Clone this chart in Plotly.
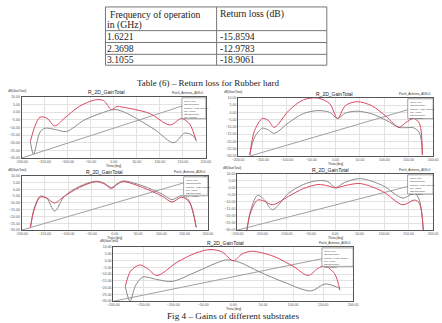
import plotly.graph_objects as go

W, H = 442, 323

# ---------------- data ----------------
table_col_titles = ["Frequency of operation", "in (GHz)", "Return loss (dB)"]
freq_ghz = ["1.6221", "2.3698", "3.1055"]
return_loss_db = ["-15.8594", "-12.9783", "-18.9061"]
table_caption = "Table (6) – Return loss for Rubber hard"
fig_caption = "Fig 4 – Gains of different substrates"

plot_title = "R_2D_GainTotal"
y_label = "dB(GainTotal)"
x_label = "Theta [deg]"
design_label = "Patch_Antenna_ADKv1"
legend_lines = ["Curve Info", "dB(GainTotal)", "Setup1 : LastAdaptive", "Phi='0deg'", "dB(GainTotal)", "Phi='90deg'"]

x_ticks = [-200, -150, -100, -50, 0, 50, 100, 150, 200]
y_ticks = [-30, -25, -20, -15, -10, -5, 0, 5, 10]

# plot 1 (top-left)
p1_theta_red = [-181, -170, -160, -145, -128, -107, -75, -39, -22, -5, 7, 20, 77, 122, 147, 165, 179]
p1_gain_red = [-19.2, -8.4, -3.3, -4.0, -9.0, -4.0, 3.7, 8.1, 7.5, 1.7, 3.7, 3.2, -0.8, -8.4, -4.2, -8.0, -19.0]
p1_theta_grey = [-181, -174, -160, -149, -125, -103, -64, -30, 2.5, 30, 55, 90, 130, 154, 170, 179]
p1_gain_grey = [-19.2, -27.5, -13.0, -10.5, -11.5, -12.7, -5.2, -1.0, 1.7, -1.0, -5.2, -11.6, -20.0, -13.7, -15.0, -18.0]
p1_theta_diag = [-200, 200]
p1_gain_diag = [-30, 9]

# plot 2 (top-right)
p2_theta = [-176, -166, -150, -138, -126, -96, -66, -36, -12, 4, 20, 44, 74, 104, 130, 144, 160, 172, 178]
p2_gain_red = [-29.3, -12.4, -4.2, -5.6, -10.3, 1.2, 8.6, 9.8, 5.9, -4.2, 4.6, 7.3, 4.6, -2.9, -10.3, -7.0, -4.2, -7.6, -29.3]
p2_gain_grey = [-29.3, -17.0, -10.9, -12.0, -14.4, -7.0, -0.8, 1.2, 0.0, -4.2, -0.5, 0.8, -1.0, -5.5, -10.3, -10.5, -10.6, -14.0, -29.3]
p2_theta_diag = [-176, 190]
p2_gain_diag = [-30, 5.9]

# plot 3 (middle-left)
p3_theta = [-181, -173, -160, -146, -129, -108, -76, -41, -24, -7, 5, 18, 60, 102, 123, 144, 160, 175]
p3_gain_red = [-27.9, -15.0, -5.7, -6.4, -10.0, -5.0, 1.4, 5.7, 4.3, 0.7, 3.6, 5.7, 1.4, -5.0, -9.3, -5.7, -9.3, -27.9]
p3_gain_grey = [-27.9, -14.0, -5.0, -6.5, -16.0, -5.0, 2.2, 6.0, 4.8, 1.4, 4.2, 6.2, 2.6, -3.5, -7.5, -4.6, -8.5, -27.9]
p3_theta_diag = [-200, 200]
p3_gain_diag = [-30, 10]

# plot 4 (middle-right)
p4_theta = [-180, -172, -158, -144, -128, -95, -65, -35, -15, 1, 19, 51, 97, 138, 162, 172, 180]
p4_gain_grey = [-30, -15.5, -5.2, -8.6, -15.5, -3.8, 2.4, 5.2, 4.5, 0.3, 3.8, 6.6, 1.7, -7.2, -3.8, -8.6, -30]
p4_gain_red = [-30, -17.0, -8.6, -9.5, -12.0, -6.0, -0.5, 2.4, 1.5, 0.0, 1.5, 3.1, -2.5, -12.0, -8.6, -11.0, -30]
p4_theta_diag = [-200, 195]
p4_gain_diag = [-30, 5.2]

# plot 5 (bottom)
p5_theta_red = [-180, -171, -156, -143, -127, -94, -62, -37, -18, 0, 15, 31, 68, 101, 125, 141, 153, 169, 178]
p5_gain_red = [-19.2, -7.8, -3.3, -5.9, -11.0, -1.4, 5.6, 8.1, 6.2, -0.2, 4.9, 6.8, 3.0, -4.6, -11.0, -5.9, -4.0, -9.7, -22.0]
p5_theta_grey = [-180, -172, -163, -151, -127, -102, -62, -29, -10, 11, 44, 85, 130, 153, 178]
p5_gain_grey = [-19.2, -30.0, -18.6, -12.2, -14.0, -15.4, -8.4, -2.0, 0.5, -1.4, -8.4, -16.0, -22.4, -17.3, -20.5]
p5_theta_diag = [-200, 200]
p5_gain_diag = [-30, 6]

# ---------------- layout helpers ----------------
def fx(p):
    return p / W

def fy(p):
    return 1 - p / H

RED = "#d9485f"
GREY = "#8a8a8a"
DIAG = "#a0a0a0"
SERIF = "Liberation Serif, Times New Roman, serif"
SANS = "Liberation Sans, Arial, sans-serif"

panels = [
    dict(box=(16, 205, 96, 158), tx=103, ty=91,
         red=(p1_theta_red, p1_gain_red), grey=(p1_theta_grey, p1_gain_grey), diag=(p1_theta_diag, p1_gain_diag)),
    dict(box=(238, 438, 97, 156), tx=337, ty=93,
         red=(p2_theta, p2_gain_red), grey=(p2_theta, p2_gain_grey), diag=(p2_theta_diag, p2_gain_diag)),
    dict(box=(16, 207, 176, 231), tx=101, ty=172,
         red=(p3_theta, p3_gain_red), grey=(p3_theta, p3_gain_grey), diag=(p3_theta_diag, p3_gain_diag)),
    dict(box=(237, 438, 174, 231), tx=333, ty=170,
         red=(p4_theta, p4_gain_red), grey=(p4_theta, p4_gain_grey), diag=(p4_theta_diag, p4_gain_diag)),
    dict(box=(110, 356, 248, 303), tx=225, ty=244,
         red=(p5_theta_red, p5_gain_red), grey=(p5_theta_grey, p5_gain_grey), diag=(p5_theta_diag, p5_gain_diag)),
]

fig = go.Figure()
shapes = []
annotations = []
layout_axes = {}


def note(x, y, text, size, family=SANS, color="#333", xanchor="center", yanchor="middle", align="left"):
    annotations.append(dict(x=fx(x), y=fy(y), xref="paper", yref="paper", text=text, showarrow=False,
                            xanchor=xanchor, yanchor=yanchor, align=align, borderpad=0,
                            font=dict(size=size, family=family, color=color)))


for i, p in enumerate(panels, start=1):
    sfx = "" if i == 1 else str(i)
    xa, ya = "x" + sfx, "y" + sfx
    l, r, t, b = p["box"]
    for key, col in (("diag", DIAG), ("grey", GREY), ("red", RED)):
        xs, ys = p[key]
        fig.add_trace(go.Scatter(
            x=xs, y=ys, mode="lines", xaxis=xa, yaxis=ya,
            line=dict(color=col, width=1, shape="spline" if key != "diag" else "linear", smoothing=0.9),
            showlegend=False, hoverinfo="skip", cliponaxis=True))
    tickfont = dict(size=3.5, color="#555", family=SANS)
    layout_axes["xaxis" + sfx] = dict(
        domain=[fx(l), fx(r)], anchor=ya, range=[-200, 200], tickvals=x_ticks,
        tickformat=".2f", tickfont=tickfont, showgrid=True, gridcolor="#e2e2e2", gridwidth=1,
        zeroline=False, showline=True, linecolor="#555", linewidth=1, mirror=True,
        ticks="", ticklen=0, fixedrange=True)
    layout_axes["yaxis" + sfx] = dict(
        domain=[fy(b), fy(t)], anchor=xa, range=[-30, 10], tickvals=y_ticks,
        tickformat=".2f", tickfont=tickfont, showgrid=True, gridcolor="#e2e2e2", gridwidth=1,
        zeroline=False, showline=True, linecolor="#555", linewidth=1, mirror=True,
        ticks="", ticklen=0, fixedrange=True)
    note(p["tx"], p["ty"], plot_title, 5, color="#222")
    note(l - 15, t - 5.5, y_label, 3, xanchor="left")
    note(r - 1, t - 4, design_label, 3, xanchor="right")
    note((l + r) / 2, b + 8, x_label, 3)
    # legend box
    bw, bh = (r - l) * 0.13, (b - t) * 0.34
    shapes.append(dict(type="rect", xref="paper", yref="paper",
                       x0=fx(r - bw), x1=fx(r), y0=fy(t + 1 + bh), y1=fy(t + 1),
                       line=dict(color="#666", width=0.6), fillcolor="white", layer="above"))
    note(r - bw + 1, t + 2, "<br>".join(legend_lines), 2.5, color="#444", xanchor="left", yanchor="top")

# ---------------- table ----------------
tl, tr, tc = 102, 329, 216
rows_y = [5, 29, 41, 53, 64]
line_style = dict(color="#777", width=1)
shapes.append(dict(type="rect", xref="paper", yref="paper", x0=fx(tl), x1=fx(tr),
                   y0=fy(rows_y[-1]), y1=fy(rows_y[0]), line=line_style))
for yy in rows_y[1:-1]:
    shapes.append(dict(type="line", xref="paper", yref="paper", x0=fx(tl), x1=fx(tr),
                       y0=fy(yy), y1=fy(yy), line=line_style))
shapes.append(dict(type="line", xref="paper", yref="paper", x0=fx(tc), x1=fx(tc),
                   y0=fy(rows_y[0]), y1=fy(rows_y[-1]), line=line_style))

TS = 9.7
note(106, 12.5, table_col_titles[0], TS, SERIF, "#222", xanchor="left")
note(103, 23.5, table_col_titles[1], TS, SERIF, "#222", xanchor="left")
note(218, 12.5, table_col_titles[2], TS, SERIF, "#222", xanchor="left")
for k, (f, rl) in enumerate(zip(freq_ghz, return_loss_db)):
    yc = (rows_y[k + 1] + rows_y[k + 2]) / 2
    note(103, yc, f, TS, SERIF, "#222", xanchor="left")
    note(218, yc, rl, TS, SERIF, "#222", xanchor="left")

note(208, 82, table_caption, 9, SERIF, "#222")
note(233, 317.6, fig_caption, 9.2, SERIF, "#222")

fig.update_layout(
    width=W, height=H, margin=dict(l=0, r=0, t=0, b=0),
    paper_bgcolor="white", plot_bgcolor="white",
    shapes=shapes, annotations=annotations, **layout_axes)

fig.write_html("out.html", config=dict(displayModeBar=False))
